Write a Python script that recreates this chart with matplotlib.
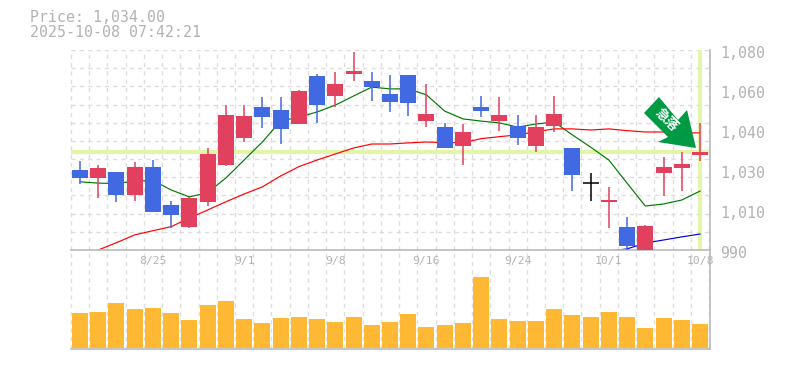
import matplotlib
matplotlib.use("Agg")
import matplotlib.pyplot as plt
from matplotlib.patches import Polygon

W, H = 785, 370
TITLE = ["Price: 1,034.00", "2025-10-08 07:42:21"]
PRICE_LABELS = ["1,080", "1,060", "1,040", "1,030", "1,010", "990"]
DATE_IDX = [4, 9, 14, 19, 24, 29, 34]
DATE_LABELS = ["8/25", "9/1", "9/8", "9/16", "9/24", "10/1", "10/8"]
LAST_PRICE = 1034

def p(y):
    return round(1080 - (y - 50) / 200 * 90, 1)

# candle readings (price units)
opens = [p(v) for v in [170,178,172,195,167,205,227,202,165,138,107,110,124,76,96,74,81,94,75,121,127,146,107,121,126,146,126,148,183.3,202,227,251,173,168,155]]
closes = [p(v) for v in [178,168,195,167,212,215,198,154,115,116,117,129,91,105,84,71,87,102,103,114,148,132,111,115,138,127,114,175,183.3,200,246,226,167,164,152]]
highs = [p(v) for v in [161,165,172,162,160,201,197,148,105,105,97,97,90,74,72,52,72,75,75,84,123,124,96,97,115,115,96,148,173,187,217,225,157,152,123]]
lows = [p(v) for v in [184,198,202,201,212,228,228,206,166,142,128,144,124,123,107,81,101,112,116,127,148,165,117,131,145,152,132,191,201,228,251,251,196,191,161]]
ma_short = [p(v) for v in [181.7,183,183.5,181,180.5,190,197,192.7,178,160,142,121,117,112,105,96,87,89,89,95,111,119,121,123,127,124,122,135,147,160,183,206,204,200,191]]
ma_mid = [None] + [p(v) for v in [250,242.7,235,230.7,226.7,218,210,201.7,194,187,176,166.7,160,154,148,144,144,143,142,142.7,142.7,138.7,136.7,135,131.7,129,129,130,129,130.7,132,132,133,133]]
ma_long = [None]*29 + [p(v) for v in [251,249,243,240,237,234]]
volumes = [35,36,45,39,40,35,28,43,47,29,25,30,31,29,26,31,23,26,34,21,23,25,71,29,27,27,39,33,31,36,31,20,30,28,24]

UP, DOWN, DOJI = "#e2405f", "#4169e1", "#000000"
GRID, FRAME, TXT, HL = "#dddddd", "#bbbbbb", "#b2b2b2", "#e2f5a8"

fig = plt.figure(figsize=(W/100, H/100), dpi=100, facecolor="white")
def axes(x0, y0, x1, y1):
    return fig.add_axes([x0/W, 1 - y1/H, (x1-x0)/W, (y1-y0)/H])

L, R = 71, 709.5
STEP = 620/34
X0 = 80
xlim = ((L - X0)/STEP, (R - X0)/STEP)
ax = axes(L, 50, R, 250)
vx = axes(L, 250, R, 349)
n = len(opens)
xs = list(range(n))

for a in (ax, vx):
    a.set_xlim(*xlim)
    a.set_xticks([])
    a.set_yticks([])
    a.patch.set_alpha(0)
    for s in a.spines.values():
        s.set_visible(False)
    for i in range(n + 1):
        a.axvline(i - 0.5, color=GRID, lw=1, ls=(0, (3, 3)), zorder=0, clip_on=False)
    a.spines["right"].set_visible(True)
    a.spines["bottom"].set_visible(True)
    a.spines["right"].set_color(FRAME)
    a.spines["bottom"].set_color(FRAME)
    a.spines["right"].set_linewidth(1.2)
    a.spines["bottom"].set_linewidth(1.2)

ax.set_ylim(990, 1080)
for k in range(12):
    ax.axhline(1080 - k*90/11, color=GRID, lw=1, ls=(0, (3, 3)), zorder=0)
ax.axhline(LAST_PRICE, color=HL, lw=3, zorder=1)
ax.axvline(n - 1, color=HL, lw=3, zorder=1)

ax.plot(xs, ma_short, color="#007a00", lw=0.85, zorder=2)
ax.plot(xs, ma_mid, color="#ff0000", lw=0.85, zorder=2)
ax.plot(xs, ma_long, color="#0000e0", lw=0.85, zorder=2)

for i in xs:
    o, c = opens[i], closes[i]
    col = DOJI if o == c else (UP if c > o else DOWN)
    ax.vlines(i, lows[i], highs[i], color=col, lw=1.1, zorder=3)
    if o == c:
        ax.hlines(o, i - 0.44, i + 0.44, color=col, lw=1.1, zorder=3)
    else:
        ax.bar(i, abs(c - o), bottom=min(o, c), width=16/STEP, color=col, lw=0, zorder=3)

vx.set_ylim(-1, 98)
vx.bar(xs, volumes, width=16/STEP, color="#ffb833", lw=0, zorder=3)

# overlay in pixels for the arrow
ov = fig.add_axes([0, 0, 1, 1])
ov.set_xlim(0, W); ov.set_ylim(H, 0); ov.axis("off"); ov.patch.set_alpha(0)
ov.add_patch(Polygon([(659,97),(644,113),(668,137),(658,142),(696,148),(687,110),(678,120)],
                     closed=True, fc="#009944", ec="none", zorder=5))
ov.text(666.5, 120, "急落", rotation=-45, color="white", fontsize=9.5, fontweight="bold",
        family=["Noto Sans CJK JP", "DejaVu Sans"], ha="center", va="center", zorder=6)

for i, t in enumerate(TITLE):
    fig.text(30/W, 1 - (17.5 + 15*i)/H, t, color=TXT, fontsize=10.7, family="DejaVu Sans Mono", va="center", ha="left")
for i, lab in enumerate(PRICE_LABELS):
    fig.text(720/W, 1 - (53 + 40*i)/H, lab, color=TXT, fontsize=10.7, family="DejaVu Sans Mono", va="center", ha="left")
for i, lab in zip(DATE_IDX, DATE_LABELS):
    x = X0 + i*STEP
    fig.text(x/W, 1 - 261/H, lab, color=TXT, fontsize=8.2, family="DejaVu Sans Mono", va="center", ha="center")

fig.savefig("out.png", dpi=100)
